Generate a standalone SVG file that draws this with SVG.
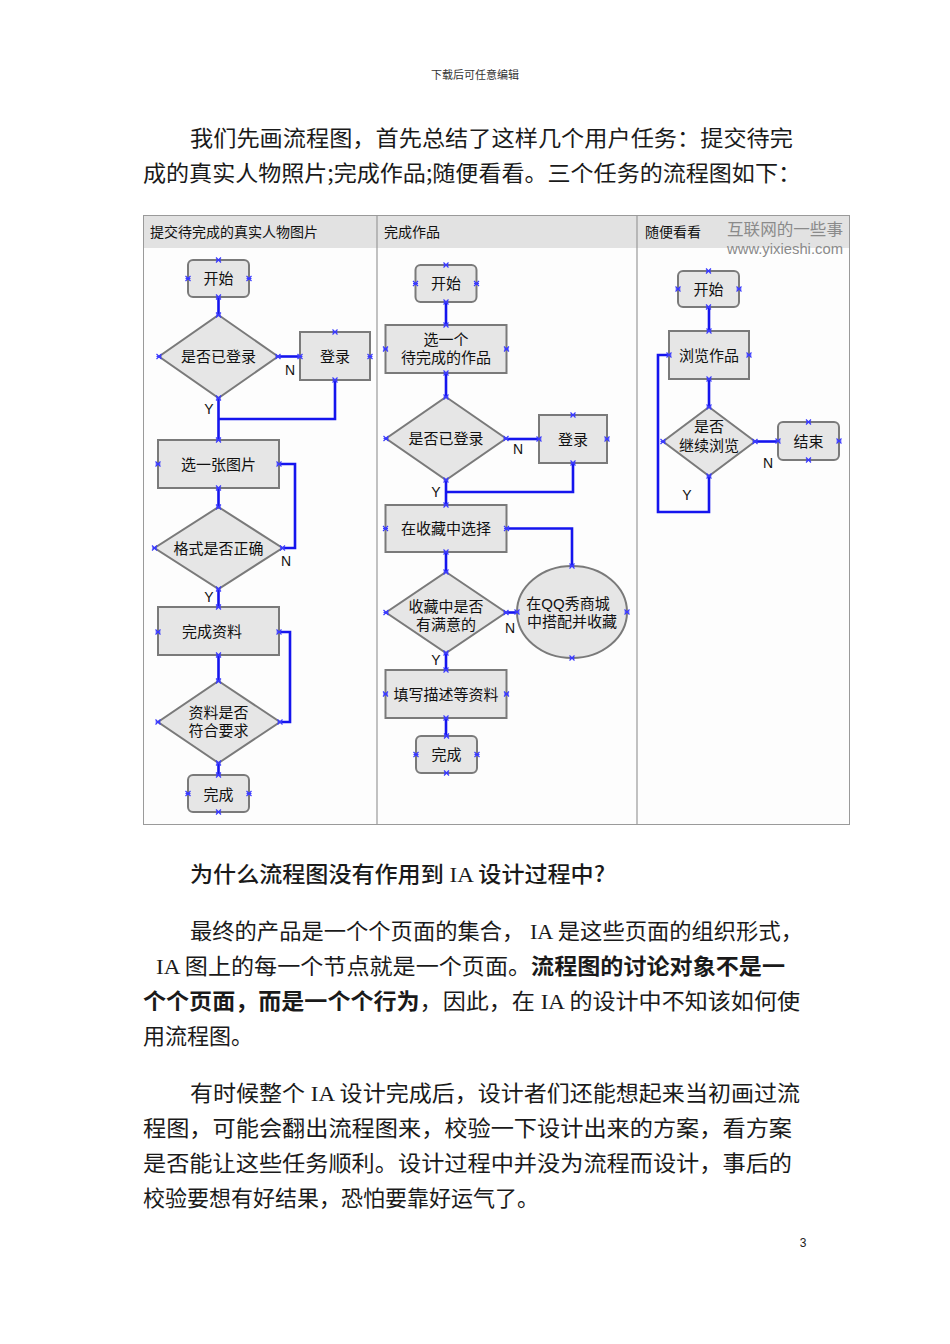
<svg xmlns="http://www.w3.org/2000/svg" xmlns:xlink="http://www.w3.org/1999/xlink" width="950" height="1344" viewBox="0 0 950 1344">
<style>
.page{font-family:"Noto Sans CJK SC","Noto Sans",sans-serif;fill:#1a1a1a;font-size:22px}
.ser{font-family:"Liberation Serif",serif;font-weight:normal}
.b{font-weight:bold}
.hd{font-weight:500}
.hdr{font-family:"Noto Sans CJK SC",sans-serif;font-size:11px;fill:#333}
.t{font-family:"Noto Sans CJK SC","Noto Sans",sans-serif;font-size:15px;fill:#111;text-anchor:middle}
.t2{font-family:"Liberation Sans","Noto Sans CJK SC",sans-serif;font-size:15px;fill:#111;text-anchor:middle}
.ct{font-family:"Noto Sans CJK SC",sans-serif;font-size:14px;fill:#111}
.lab{font-family:"Liberation Sans",Arial,sans-serif;font-size:14px;fill:#111;text-anchor:middle}
.shape{fill:#e6e6e6;stroke:#7a7a7a;stroke-width:2}
.conn{fill:none;stroke:#1515ee;stroke-width:2.6;stroke-linejoin:miter}
.wm{font-family:"Noto Sans CJK SC",sans-serif;font-size:16px;fill:#8a8a8a}
.wm2{font-family:"Liberation Sans",Arial,sans-serif;font-size:14px;fill:#8a8a8a}
</style>
<defs>
<path id="x" d="M-2.5,-2.5 L2.5,2.5 M-2.5,2.5 L2.5,-2.5 M-2.5,0 L2.5,0" stroke="#3a3aff" stroke-width="1.2" fill="none"/>
</defs>
<rect width="950" height="1344" fill="#ffffff"/>

<text class="hdr" x="475" y="79" text-anchor="middle">下载后可任意编辑</text>

<text class="page" x="190" y="146" textLength="603" lengthAdjust="spacingAndGlyphs">我们先画流程图，首先总结了这样几个用户任务：提交待完</text>
<text class="page" x="143" y="181" textLength="658" lengthAdjust="spacingAndGlyphs">成的真实人物照片;完成作品;随便看看。三个任务的流程图如下：</text>

<g id="frame">
<rect x="143.5" y="215.5" width="706" height="609" fill="#fdfdfd" stroke="#9a9a9a" stroke-width="1"/>
<rect x="144" y="216" width="705" height="32" fill="#e2e2e2"/>
<line x1="377" y1="215.5" x2="377" y2="824.5" stroke="#9a9a9a" stroke-width="1.2"/>
<line x1="637" y1="215.5" x2="637" y2="824.5" stroke="#9a9a9a" stroke-width="1.2"/>
<text class="ct" x="150" y="237">提交待完成的真实人物图片</text>
<text class="ct" x="384" y="237">完成作品</text>
<text class="ct" x="645" y="237">随便看看</text>
<text class="wm" x="727" y="235" textLength="116" lengthAdjust="spacingAndGlyphs">互联网的一些事</text>
<text class="wm2" x="727" y="254" textLength="116" lengthAdjust="spacingAndGlyphs">www.yixieshi.com</text>
</g>

<g id="connectors">
<polyline class="conn" points="218.5,297 218.5,315"/>
<polyline class="conn" points="278,356.5 300,356.5"/>
<polyline class="conn" points="335,380 335,419 218.5,419"/>
<polyline class="conn" points="218.5,398 218.5,440"/>
<polyline class="conn" points="218.5,488 218.5,507"/>
<polyline class="conn" points="282.5,548 295,548 295,464 279,464"/>
<polyline class="conn" points="218.5,589 218.5,607"/>
<polyline class="conn" points="218.5,655 218.5,681"/>
<polyline class="conn" points="280,722 290,722 290,632 279,632"/>
<polyline class="conn" points="218.5,763 218.5,775"/>

<polyline class="conn" points="446,302 446,325"/>
<polyline class="conn" points="446,373 446,397"/>
<polyline class="conn" points="507,439 539,439"/>
<polyline class="conn" points="573,463 573,492 446,492"/>
<polyline class="conn" points="446,480 446,505"/>
<polyline class="conn" points="507,528.5 572,528.5 572,566"/>
<polyline class="conn" points="446,552 446,572"/>
<polyline class="conn" points="507,612.5 517,612.5"/>
<polyline class="conn" points="446,653 446,670"/>
<polyline class="conn" points="446,718 446,736"/>

<polyline class="conn" points="709,307 709,331"/>
<polyline class="conn" points="709,379 709,407"/>
<polyline class="conn" points="755,441.5 778,441.5"/>
<polyline class="conn" points="709,476 709,512 658,512 658,355 669,355"/>

<text class="lab" x="290" y="375">N</text>
<text class="lab" x="209" y="414">Y</text>
<text class="lab" x="286" y="566">N</text>
<text class="lab" x="209" y="602">Y</text>
<text class="lab" x="518" y="454">N</text>
<text class="lab" x="436" y="497">Y</text>
<text class="lab" x="510" y="633">N</text>
<text class="lab" x="436" y="665">Y</text>
<text class="lab" x="768" y="468">N</text>
<text class="lab" x="687" y="500">Y</text>
</g>

<!-- Column 1 -->
<g id="c1-start">
<rect class="shape" x="188" y="260" width="61" height="37" rx="5"/>
<text class="t" x="218.5" y="284">开始</text>
<use xlink:href="#x" x="218.5" y="260"/><use xlink:href="#x" x="218.5" y="297"/><use xlink:href="#x" x="188" y="278.5"/><use xlink:href="#x" x="249" y="278.5"/>
</g>
<g id="c1-login-q">
<polygon class="shape" points="218.5,315 278,356.5 218.5,398 159,356.5"/>
<text class="t" x="218.5" y="362">是否已登录</text>
<use xlink:href="#x" x="218.5" y="315"/><use xlink:href="#x" x="218.5" y="398"/><use xlink:href="#x" x="159" y="356.5"/><use xlink:href="#x" x="278" y="356.5"/>
</g>
<g id="c1-login">
<rect class="shape" x="300" y="332" width="70" height="48"/>
<text class="t" x="335" y="362">登录</text>
<use xlink:href="#x" x="335" y="332"/><use xlink:href="#x" x="335" y="380"/><use xlink:href="#x" x="300" y="356.5"/><use xlink:href="#x" x="370" y="356.5"/>
</g>
<g id="c1-pick">
<rect class="shape" x="158" y="440" width="121" height="48"/>
<text class="t" x="218.5" y="469.5">选一张图片</text>
<use xlink:href="#x" x="218.5" y="440"/><use xlink:href="#x" x="218.5" y="488"/><use xlink:href="#x" x="158" y="464"/><use xlink:href="#x" x="279" y="464"/>
</g>
<g id="c1-format-q">
<polygon class="shape" points="218.5,507 282.5,548 218.5,589 154.5,548"/>
<text class="t" x="218.5" y="553.5">格式是否正确</text>
<use xlink:href="#x" x="218.5" y="507"/><use xlink:href="#x" x="218.5" y="589"/><use xlink:href="#x" x="154.5" y="548"/><use xlink:href="#x" x="282.5" y="548"/>
</g>
<g id="c1-info">
<rect class="shape" x="158" y="607" width="121" height="48"/>
<text class="t" x="212" y="636.5">完成资料</text>
<use xlink:href="#x" x="218.5" y="607"/><use xlink:href="#x" x="218.5" y="655"/><use xlink:href="#x" x="158" y="632"/><use xlink:href="#x" x="279" y="632"/>
</g>
<g id="c1-info-q">
<polygon class="shape" points="218.5,681 280,722 218.5,763 158,722"/>
<text class="t2" x="218.5" y="718">资料是否<tspan x="218.5" dy="18">符合要求</tspan></text>
<use xlink:href="#x" x="218.5" y="681"/><use xlink:href="#x" x="218.5" y="763"/><use xlink:href="#x" x="158" y="722"/><use xlink:href="#x" x="280" y="722"/>
</g>
<g id="c1-end">
<rect class="shape" x="188" y="775" width="61" height="37" rx="5"/>
<text class="t" x="218.5" y="799.5">完成</text>
<use xlink:href="#x" x="218.5" y="775"/><use xlink:href="#x" x="218.5" y="812"/><use xlink:href="#x" x="188" y="793.5"/><use xlink:href="#x" x="249" y="793.5"/>
</g>

<!-- Column 2 -->
<g id="c2-start">
<rect class="shape" x="415.5" y="265" width="61" height="37" rx="5"/>
<text class="t" x="446" y="289">开始</text>
<use xlink:href="#x" x="446" y="265"/><use xlink:href="#x" x="446" y="302"/><use xlink:href="#x" x="415.5" y="283.5"/><use xlink:href="#x" x="476.5" y="283.5"/>
</g>
<g id="c2-pick">
<rect class="shape" x="385.5" y="325" width="121" height="48"/>
<text class="t2" x="446" y="345">选一个<tspan x="446" dy="18">待完成的作品</tspan></text>
<use xlink:href="#x" x="446" y="325"/><use xlink:href="#x" x="446" y="373"/><use xlink:href="#x" x="385.5" y="349"/><use xlink:href="#x" x="506.5" y="349"/>
</g>
<g id="c2-login-q">
<polygon class="shape" points="446,397 506,438.5 446,480 386,438.5"/>
<text class="t" x="446" y="444">是否已登录</text>
<use xlink:href="#x" x="446" y="397"/><use xlink:href="#x" x="446" y="480"/><use xlink:href="#x" x="386" y="438.5"/><use xlink:href="#x" x="506" y="438.5"/>
</g>
<g id="c2-login">
<rect class="shape" x="539" y="415" width="68" height="48"/>
<text class="t" x="573" y="444.5">登录</text>
<use xlink:href="#x" x="573" y="415"/><use xlink:href="#x" x="573" y="463"/><use xlink:href="#x" x="539" y="439"/><use xlink:href="#x" x="607" y="439"/>
</g>
<g id="c2-select">
<rect class="shape" x="385.5" y="505" width="121" height="47"/>
<text class="t" x="446" y="534">在收藏中选择</text>
<use xlink:href="#x" x="446" y="505"/><use xlink:href="#x" x="446" y="552"/><use xlink:href="#x" x="385.5" y="528.5"/><use xlink:href="#x" x="506.5" y="528.5"/>
</g>
<g id="c2-qq">
<ellipse class="shape" cx="572" cy="612" rx="55" ry="46"/>
<text class="t2" x="568" y="609">在QQ秀商城<tspan x="572" dy="18">中搭配并收藏</tspan></text>
<use xlink:href="#x" x="572" y="566"/><use xlink:href="#x" x="572" y="658"/><use xlink:href="#x" x="517" y="612"/><use xlink:href="#x" x="627" y="612"/>
</g>
<g id="c2-fav-q">
<polygon class="shape" points="446,572 506,612.5 446,653 386,612.5"/>
<text class="t2" x="446" y="612">收藏中是否<tspan x="446" dy="18">有满意的</tspan></text>
<use xlink:href="#x" x="446" y="572"/><use xlink:href="#x" x="446" y="653"/><use xlink:href="#x" x="386" y="612.5"/><use xlink:href="#x" x="506" y="612.5"/>
</g>
<g id="c2-fill">
<rect class="shape" x="385.5" y="670" width="121" height="48"/>
<text class="t" x="446" y="699.5">填写描述等资料</text>
<use xlink:href="#x" x="446" y="670"/><use xlink:href="#x" x="446" y="718"/><use xlink:href="#x" x="385.5" y="694"/><use xlink:href="#x" x="506.5" y="694"/>
</g>
<g id="c2-end">
<rect class="shape" x="416" y="736" width="61" height="37" rx="5"/>
<text class="t" x="446.5" y="760">完成</text>
<use xlink:href="#x" x="446.5" y="736"/><use xlink:href="#x" x="446.5" y="773"/><use xlink:href="#x" x="416" y="754.5"/><use xlink:href="#x" x="477" y="754.5"/>
</g>

<!-- Column 3 -->
<g id="c3-start">
<rect class="shape" x="678" y="271" width="61" height="36" rx="5"/>
<text class="t" x="708.5" y="294.5">开始</text>
<use xlink:href="#x" x="708.5" y="271"/><use xlink:href="#x" x="708.5" y="307"/><use xlink:href="#x" x="678" y="289"/><use xlink:href="#x" x="739" y="289"/>
</g>
<g id="c3-browse">
<rect class="shape" x="669" y="331" width="80" height="48"/>
<text class="t" x="709" y="360.5">浏览作品</text>
<use xlink:href="#x" x="709" y="331"/><use xlink:href="#x" x="709" y="379"/><use xlink:href="#x" x="669" y="355"/><use xlink:href="#x" x="749" y="355"/>
</g>
<g id="c3-more-q">
<polygon class="shape" points="709,407 755,441.5 709,476 663,441.5"/>
<text class="t2" x="709" y="432">是否<tspan x="709" dy="19">继续浏览</tspan></text>
<use xlink:href="#x" x="709" y="407"/><use xlink:href="#x" x="709" y="476"/><use xlink:href="#x" x="663" y="441.5"/><use xlink:href="#x" x="755" y="441.5"/>
</g>
<g id="c3-end">
<rect class="shape" x="778" y="422" width="61" height="38" rx="5"/>
<text class="t" x="808.5" y="446.5">结束</text>
<use xlink:href="#x" x="808.5" y="422"/><use xlink:href="#x" x="808.5" y="460"/><use xlink:href="#x" x="778" y="441"/><use xlink:href="#x" x="839" y="441"/>
</g>

<text class="page hd" x="190" y="882" textLength="415" lengthAdjust="spacingAndGlyphs">为什么流程图没有作用到<tspan class="ser"> IA </tspan>设计过程中?</text>

<text class="page" x="190" y="939" textLength="613" lengthAdjust="spacingAndGlyphs">最终的产品是一个个页面的集合，<tspan class="ser"> IA </tspan>是这些页面的组织形式，</text>
<text class="page" x="156" y="974" textLength="629" lengthAdjust="spacingAndGlyphs"><tspan class="ser">IA </tspan>图上的每一个节点就是一个页面。<tspan class="b">流程图的讨论对象不是一</tspan></text>
<text class="page" x="143" y="1009" textLength="657" lengthAdjust="spacingAndGlyphs"><tspan class="b">个个页面，而是一个个行为</tspan>，因此，在<tspan class="ser"> IA </tspan>的设计中不知该如何使</text>
<text class="page" x="143" y="1044">用流程图。</text>

<text class="page" x="190" y="1101" textLength="610" lengthAdjust="spacingAndGlyphs">有时候整个<tspan class="ser"> IA </tspan>设计完成后，设计者们还能想起来当初画过流</text>
<text class="page" x="143" y="1136" textLength="649" lengthAdjust="spacingAndGlyphs">程图，可能会翻出流程图来，校验一下设计出来的方案，看方案</text>
<text class="page" x="143" y="1171" textLength="649" lengthAdjust="spacingAndGlyphs">是否能让这些任务顺利。设计过程中并没为流程而设计，事后的</text>
<text class="page" x="143" y="1206">校验要想有好结果，恐怕要靠好运气了。</text>

<text x="803" y="1247" font-family="Liberation Sans,Arial,sans-serif" font-size="12" fill="#222" text-anchor="middle">3</text>
</svg>
